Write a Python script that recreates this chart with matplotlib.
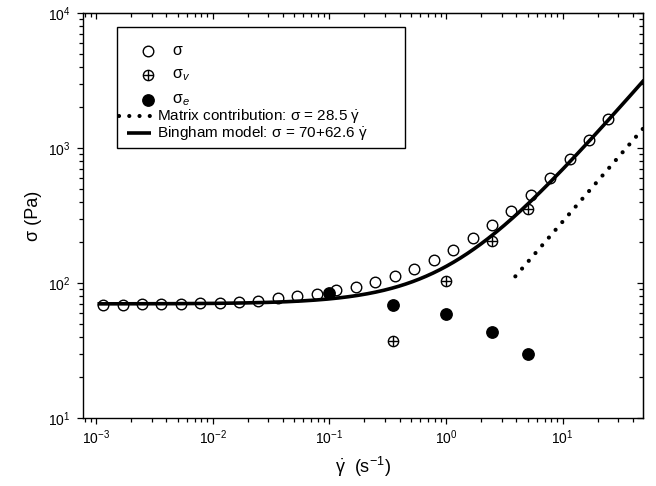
import matplotlib
matplotlib.use("Agg")
import matplotlib.pyplot as plt
import numpy as np
from matplotlib.patches import Rectangle
from matplotlib.lines import Line2D

plt.rcParams['font.family'] = ['Liberation Sans', 'DejaVu Sans']
plt.rcParams['mathtext.fontset'] = 'custom'
plt.rcParams['mathtext.rm'] = 'Liberation Sans'
plt.rcParams['mathtext.it'] = 'Liberation Sans:italic'
plt.rcParams['mathtext.bf'] = 'Liberation Sans:bold'

# measured total stress sigma
gamma_total = [0.00115, 0.00169, 0.00247, 0.00363, 0.00533, 0.00782, 0.0115,
               0.0169, 0.0247, 0.0363, 0.0533, 0.0782, 0.115, 0.169, 0.247,
               0.363, 0.533, 0.782, 1.15, 1.69, 2.47, 3.63, 5.33, 7.82, 11.5,
               16.9, 24.7]
sigma_total = [69, 69, 69.5, 70, 70, 70.5, 71, 72, 74, 77, 80, 83, 89, 94,
               102, 113, 128, 148, 175, 214, 269, 341, 448, 603, 829, 1150,
               1650]

# viscous part sigma_v
gamma_v = [0.35, 1.0, 2.5, 5.0]
sigma_v = [37.5, 103, 206, 352]

# elastic part sigma_e
gamma_e = [0.1, 0.35, 1.0, 2.5, 5.0]
sigma_e = [84, 69, 58.5, 43.5, 30]

# model parameters (from legend)
matrix_k = 28.5
matrix_start = 3.93
bingham_tau0 = 70
bingham_eta = 62.6

x_min, x_max = 7.74e-4, 48.8

fig = plt.figure(figsize=(6.56, 4.86), dpi=100)
ax = fig.add_axes([83 / 656, 1 - 418 / 486, 560 / 656, 405 / 486])
ax.set_xscale('log')
ax.set_yscale('log')

# model curves
g_b = np.logspace(np.log10(0.00103), np.log10(x_max * 1.02), 400)
ax.plot(g_b, bingham_tau0 + bingham_eta * g_b, color='black', lw=2.6,
        solid_capstyle='butt', zorder=2)
g_m = np.logspace(np.log10(matrix_start), np.log10(x_max * 1.05), 200)
ax.plot(g_m, matrix_k * g_m, color='black', lw=3, linestyle=(0, (0.01, 2.45)),
        dash_capstyle='round', zorder=2)

# data
ax.plot(gamma_total, sigma_total, linestyle='none', marker='o', ms=7.6,
        mfc='none', mec='black', mew=1.0, zorder=3)
ax.plot(gamma_v, sigma_v, linestyle='none', marker='o', ms=7.4,
        mfc='none', mec='black', mew=1.0, zorder=3)
ax.plot(gamma_v, sigma_v, linestyle='none', marker='+', ms=7.4,
        mec='black', mew=1.0, zorder=3)
ax.plot(gamma_e, sigma_e, linestyle='none', marker='o', ms=8.2,
        mfc='black', mec='black', zorder=4)

ax.set_xlim(x_min, x_max)
ax.set_ylim(10, 1e4)

ax.tick_params(which='both', direction='out', labelsize=10, width=0.9)
ax.tick_params(which='major', length=4)
ax.tick_params(which='minor', length=2.6)
ax.tick_params(axis='x', pad=3.5)
ax.tick_params(axis='y', pad=5)
for s in ax.spines.values():
    s.set_linewidth(1.0)

# inward ticks on top and right
top = ax.secondary_xaxis('top')
top.tick_params(which='both', direction='in', labeltop=False, width=0.9)
top.tick_params(which='major', length=4)
top.tick_params(which='minor', length=2.6)
right = ax.secondary_yaxis('right')
right.tick_params(which='both', direction='in', labelright=False, width=0.9)
right.tick_params(which='major', length=4)
right.tick_params(which='minor', length=2.6)

ax.set_xlabel(r'$\dot{\mathrm{\gamma}}$  (s$^{-1}$)', fontsize=13, labelpad=6)
ax.set_ylabel('σ (Pa)', fontsize=13, labelpad=4)

# legend, drawn by hand to keep the uneven row spacing
def fx(px):
    return (px - 83) / 560


def fy(py):
    return (418 - py) / 405


ax.add_patch(Rectangle((fx(117), fy(148)), fx(405) - fx(117), fy(27) - fy(148),
                       transform=ax.transAxes, facecolor='white',
                       edgecolor='black', lw=1.0, zorder=5))
leg_fs = 11.5
mx, tx = fx(148), fx(172)
rows = [fy(51), fy(75), fy(100)]
ax.add_line(Line2D([mx], [rows[0]], transform=ax.transAxes, marker='o', ms=7.6,
                   mfc='none', mec='black', mew=1.0, zorder=6))
ax.add_line(Line2D([mx], [rows[1]], transform=ax.transAxes, marker='o', ms=7.4,
                   mfc='none', mec='black', mew=1.0, zorder=6))
ax.add_line(Line2D([mx], [rows[1]], transform=ax.transAxes, marker='+', ms=7.4,
                   mec='black', mew=1.0, zorder=6))
ax.add_line(Line2D([mx], [rows[2]], transform=ax.transAxes, marker='o', ms=8.2,
                   mfc='black', mec='black', zorder=6))
labels = ['σ', r'σ$_{\mathit{v}}$', r'σ$_{\mathit{e}}$']
for r, lab in zip(rows, labels):
    ax.text(tx, r, lab, transform=ax.transAxes, fontsize=leg_fs,
            va='center', ha='left', zorder=6)

line_fs = 11
r4, r5 = fy(116), fy(133.5)
ax.add_line(Line2D([fx(119), fx(150)], [r4, r4], transform=ax.transAxes,
                   color='black', lw=3, linestyle=(0, (0.01, 2.45)),
                   dash_capstyle='round', zorder=6))
ax.add_line(Line2D([fx(126.5), fx(151)], [r5, r5], transform=ax.transAxes,
                   color='black', lw=2.6, solid_capstyle='butt', zorder=6))
ax.text(fx(157), r4, r'Matrix contribution: σ = 28.5 $\dot{\mathrm{\gamma}}$',
        transform=ax.transAxes, fontsize=line_fs, va='center', ha='left', zorder=6)
ax.text(fx(157), r5, r'Bingham model: σ = 70+62.6 $\dot{\mathrm{\gamma}}$',
        transform=ax.transAxes, fontsize=line_fs, va='center', ha='left', zorder=6)

fig.savefig('out.png', dpi=100)
